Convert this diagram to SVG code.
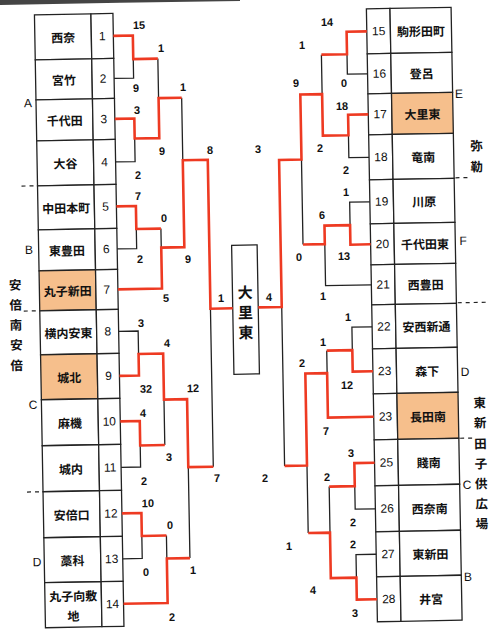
<svg xmlns="http://www.w3.org/2000/svg" width="500" height="644" viewBox="0 0 500 644">
<style>
.cell{fill:#fff;stroke:#222;stroke-width:1.3}
.hl{fill:#F6BF8C;stroke:#222;stroke-width:1.3}
.ln{fill:none;stroke:#222;stroke-width:1.3}
.rd{fill:none;stroke:#EE3A22;stroke-width:2.6;stroke-linejoin:miter}
.nm{font-family:"Noto Sans CJK JP","Noto Sans CJK SC",sans-serif;font-size:12px;font-weight:bold;text-anchor:middle;dominant-baseline:central;fill:#111}
.no{font-family:"Liberation Sans",Arial,sans-serif;font-size:12px;text-anchor:middle;dominant-baseline:central;fill:#111}
.sc{font-family:"Liberation Sans",Arial,sans-serif;font-size:11px;font-weight:bold;text-anchor:middle;dominant-baseline:central;fill:#111}
.gp{font-family:"Liberation Sans",Arial,sans-serif;font-size:12px;text-anchor:middle;dominant-baseline:central;fill:#111}
.vj{font-family:"Noto Sans CJK JP",sans-serif;font-size:12.5px;font-weight:bold;text-anchor:middle;dominant-baseline:central;fill:#111}
.ds{stroke:#222;stroke-width:1.2;stroke-dasharray:4 4;fill:none}
.bx{font-family:"Noto Sans CJK JP",sans-serif;font-size:15px;font-weight:bold;text-anchor:middle;dominant-baseline:central;fill:#111}
</style>
<rect x="0" y="0" width="500" height="644" fill="#fff"/>
<path d="M0,0 H240 V1 Q120,2.5 0,5 Z" fill="#444"/>
<g transform="rotate(-1.03 250 322)">
<!-- left table -->
<g id="t1"><rect class="cell" x="40" y="11" width="56.5" height="45"/><rect class="cell" x="96.5" y="11" width="22" height="45"/><text class="nm" x="68.25" y="33.5">西奈</text><text class="no" x="107.5" y="33.5">1</text></g>
<g id="t2"><rect class="cell" x="40" y="56" width="56.5" height="40"/><rect class="cell" x="96.5" y="56" width="22" height="40"/><text class="nm" x="68.25" y="76">宮竹</text><text class="no" x="107.5" y="76">2</text></g>
<g id="t3"><rect class="cell" x="40" y="96" width="56.5" height="41"/><rect class="cell" x="96.5" y="96" width="22" height="41"/><text class="nm" x="68.25" y="116.5">千代田</text><text class="no" x="107.5" y="116.5">3</text></g>
<g id="t4"><rect class="cell" x="40" y="137" width="56.5" height="45"/><rect class="cell" x="96.5" y="137" width="22" height="45"/><text class="nm" x="68.25" y="159.5">大谷</text><text class="no" x="107.5" y="159.5">4</text></g>
<g id="t5"><rect class="cell" x="40" y="182" width="56.5" height="44"/><rect class="cell" x="96.5" y="182" width="22" height="44"/><text class="nm" x="68.25" y="204">中田本町</text><text class="no" x="107.5" y="204">5</text></g>
<g id="t6"><rect class="cell" x="40" y="226" width="56.5" height="41"/><rect class="cell" x="96.5" y="226" width="22" height="41"/><text class="nm" x="68.25" y="246.5">東豊田</text><text class="no" x="107.5" y="246.5">6</text></g>
<g id="t7"><rect class="hl" x="40" y="267" width="56.5" height="40"/><rect class="cell" x="96.5" y="267" width="22" height="40"/><text class="nm" x="68.25" y="287">丸子新田</text><text class="no" x="107.5" y="287">7</text></g>
<g id="t8"><rect class="cell" x="40" y="307" width="56.5" height="44"/><rect class="cell" x="96.5" y="307" width="22" height="44"/><text class="nm" x="68.25" y="329">横内安東</text><text class="no" x="107.5" y="329">8</text></g>
<g id="t9"><rect class="hl" x="40" y="351" width="56.5" height="45"/><rect class="cell" x="96.5" y="351" width="22" height="45"/><text class="nm" x="68.25" y="373.5">城北</text><text class="no" x="107.5" y="373.5">9</text></g>
<g id="t10"><rect class="cell" x="40" y="396" width="56.5" height="46"/><rect class="cell" x="96.5" y="396" width="22" height="46"/><text class="nm" x="68.25" y="419">麻機</text><text class="no" x="107.5" y="419">10</text></g>
<g id="t11"><rect class="cell" x="40" y="442" width="56.5" height="46"/><rect class="cell" x="96.5" y="442" width="22" height="46"/><text class="nm" x="68.25" y="465">城内</text><text class="no" x="107.5" y="465">11</text></g>
<g id="t12"><rect class="cell" x="40" y="488" width="56.5" height="46"/><rect class="cell" x="96.5" y="488" width="22" height="46"/><text class="nm" x="68.25" y="511">安倍口</text><text class="no" x="107.5" y="511">12</text></g>
<g id="t13"><rect class="cell" x="40" y="534" width="56.5" height="45"/><rect class="cell" x="96.5" y="534" width="22" height="45"/><text class="nm" x="68.25" y="556.5">藁科</text><text class="no" x="107.5" y="556.5">13</text></g>
<g id="t14"><rect class="cell" x="40" y="579" width="56.5" height="45"/><rect class="cell" x="96.5" y="579" width="22" height="45"/><text class="nm" x="68.25" y="592">丸子向敷</text><text class="nm" x="68.25" y="612">地</text><text class="no" x="107.5" y="601.5">14</text></g>
<!-- right table -->
<g id="t15"><rect class="cell" x="372" y="11" width="23.6" height="45"/><rect class="cell" x="395.6" y="11" width="61.1" height="45"/><text class="no" x="383.8" y="33.5">15</text><text class="nm" x="426.2" y="33.5">駒形田町</text></g>
<g id="t16"><rect class="cell" x="372" y="56" width="23.6" height="40"/><rect class="cell" x="395.6" y="56" width="61.1" height="40"/><text class="no" x="383.8" y="76">16</text><text class="nm" x="426.2" y="76">登呂</text></g>
<g id="t17"><rect class="cell" x="372" y="96" width="23.6" height="41"/><rect class="hl" x="395.6" y="96" width="61.1" height="41"/><text class="no" x="383.8" y="116.5">17</text><text class="nm" x="426.2" y="116.5">大里東</text></g>
<g id="t18"><rect class="cell" x="372" y="137" width="23.6" height="45"/><rect class="cell" x="395.6" y="137" width="61.1" height="45"/><text class="no" x="383.8" y="159.5">18</text><text class="nm" x="426.2" y="159.5">竜南</text></g>
<g id="t19"><rect class="cell" x="372" y="182" width="23.6" height="44"/><rect class="cell" x="395.6" y="182" width="61.1" height="44"/><text class="no" x="383.8" y="204">19</text><text class="nm" x="426.2" y="204">川原</text></g>
<g id="t20"><rect class="cell" x="372" y="226" width="23.6" height="41"/><rect class="cell" x="395.6" y="226" width="61.1" height="41"/><text class="no" x="383.8" y="246.5">20</text><text class="nm" x="426.2" y="246.5">千代田東</text></g>
<g id="t21"><rect class="cell" x="372" y="267" width="23.6" height="40"/><rect class="cell" x="395.6" y="267" width="61.1" height="40"/><text class="no" x="383.8" y="287">21</text><text class="nm" x="426.2" y="287">西豊田</text></g>
<g id="t22"><rect class="cell" x="372" y="307" width="23.6" height="44"/><rect class="cell" x="395.6" y="307" width="61.1" height="44"/><text class="no" x="383.8" y="329">22</text><text class="nm" x="426.2" y="329">安西新通</text></g>
<g id="t23"><rect class="cell" x="372" y="351" width="23.6" height="45"/><rect class="cell" x="395.6" y="351" width="61.1" height="45"/><text class="no" x="383.8" y="373.5">23</text><text class="nm" x="426.2" y="373.5">森下</text></g>
<g id="t24"><rect class="cell" x="372" y="396" width="23.6" height="46"/><rect class="hl" x="395.6" y="396" width="61.1" height="46"/><text class="no" x="383.8" y="419">23</text><text class="nm" x="426.2" y="419">長田南</text></g>
<g id="t25"><rect class="cell" x="372" y="442" width="23.6" height="46"/><rect class="cell" x="395.6" y="442" width="61.1" height="46"/><text class="no" x="383.8" y="465">25</text><text class="nm" x="426.2" y="465">賤南</text></g>
<g id="t26"><rect class="cell" x="372" y="488" width="23.6" height="46"/><rect class="cell" x="395.6" y="488" width="61.1" height="46"/><text class="no" x="383.8" y="511">26</text><text class="nm" x="426.2" y="511">西奈南</text></g>
<g id="t27"><rect class="cell" x="372" y="534" width="23.6" height="45"/><rect class="cell" x="395.6" y="534" width="61.1" height="45"/><text class="no" x="383.8" y="556.5">27</text><text class="nm" x="426.2" y="556.5">東新田</text></g>
<g id="t28"><rect class="cell" x="372" y="579" width="23.6" height="45"/><rect class="cell" x="395.6" y="579" width="61.1" height="45"/><text class="no" x="383.8" y="601.5">28</text><text class="nm" x="426.2" y="601.5">井宮</text></g>
<!-- champion box -->
<g id="champ"><rect class="cell" x="233" y="245" width="25.5" height="129"/><text class="bx" x="245.7" y="291.5">大</text><text class="bx" x="245.7" y="311.5">里</text><text class="bx" x="245.7" y="331.5">東</text></g>
<!-- connectors -->
<g id="connectors">
<path class="ln" d="M118.5,76 H138 V57 M118.5,159.5 H138 V136.5 M162.6,57 V96.5 M118.5,246.5 H138 V227 M162.6,227 V246 M185.7,96.5 V159 M118.5,329 H138 V352 M118.5,465 H138 V443.5 M162.6,398 V443.5 M118.5,556.5 H138 V534 M162.6,534 V557 M185.7,466 V557 M210.7,308 V466"/>
<path class="ln" d="M372,76 H351.8 V56 M372,159.5 H351.8 V137 M326.2,56 V95.5 M372,204 H351.8 V227 M372,287 H326.2 V245.5 M304.4,160.5 V245.5 M372,329 H351.8 V352 M326.2,352 V374.5 M372,511 H351.8 V488 M372,556.5 H351.8 V579.5 M326.2,488 V534 M304.4,466.5 V534 M282,307.5 V466.5"/>
<path class="rd" d="M118.5,33.5 H138 V57 H162.6"/>
<path class="rd" d="M118.5,116.5 H138 V136.5 H162.6 V96.5 H185.7"/>
<path class="rd" d="M118.5,204 H138 V227 H162.6"/>
<path class="rd" d="M118.5,287 H162.6 V246 H185.7 V159 H210.7 V308 H233"/>
<path class="rd" d="M118.5,373.5 H138 V352 H162.6 V398 H185.7 V466 H210.7"/>
<path class="rd" d="M118.5,419 H138 V443.5 H162.6"/>
<path class="rd" d="M118.5,511 H138 V534 H162.6"/>
<path class="rd" d="M118.5,601.5 H162.6 V557 H185.7"/>
<path class="rd" d="M372,33.5 H351.8 V56 H326.2"/>
<path class="rd" d="M372,116.5 H351.8 V137 H326.2 V95.5 H304.4 V160.5 H282 V307.5 H258.5"/>
<path class="rd" d="M372,246.5 H351.8 V227 H326.2 V245.5 H304.4"/>
<path class="rd" d="M372,373.5 H351.8 V352 H326.2"/>
<path class="rd" d="M372,419 H326.2 V374.5 H304.4 V466.5 H282"/>
<path class="rd" d="M372,465 H351.8 V488 H326.2"/>
<path class="rd" d="M372,601.5 H351.8 V579.5 H326.2 V534 H304.4"/>
</g>
<!-- dashed group separators -->
<g id="separators">
<path class="ds" d="M24,182 H40 M24,307 H40 M24,488 H40"/>
<path class="ds" d="M458,181.5 H472 M458,306.5 H486 M458,442 H472"/>
</g>
<!-- scores -->
<g id="scores">
<text class="sc" x="144.4" y="23">15</text>
<text class="sc" x="166" y="46.4">1</text>
<text class="sc" x="140.2" y="86">9</text>
<text class="sc" x="187.2" y="85.8">1</text>
<text class="sc" x="140.8" y="108">3</text>
<text class="sc" x="165.1" y="149.4">9</text>
<text class="sc" x="213.1" y="149.3">8</text>
<text class="sc" x="140.6" y="173">2</text>
<text class="sc" x="140.3" y="194">7</text>
<text class="sc" x="165.9" y="216.5">0</text>
<text class="sc" x="141.1" y="257">2</text>
<text class="sc" x="189.1" y="257.9">9</text>
<text class="sc" x="166.4" y="296.5">5</text>
<text class="sc" x="221.4" y="297.5">1</text>
<text class="sc" x="141" y="321">3</text>
<text class="sc" x="166.6" y="341.5">4</text>
<text class="sc" x="144.8" y="386.8">32</text>
<text class="sc" x="191.8" y="387">12</text>
<text class="sc" x="141.4" y="411">4</text>
<text class="sc" x="166.6" y="455.5">3</text>
<text class="sc" x="141.1" y="479">2</text>
<text class="sc" x="214.2" y="477.4">7</text>
<text class="sc" x="144.7" y="501.2">10</text>
<text class="sc" x="166.3" y="523.6">0</text>
<text class="sc" x="188.5" y="569">1</text>
<text class="sc" x="141.5" y="570.1">0</text>
<text class="sc" x="166.7" y="615.6">2</text>
<text class="sc" x="332.4" y="23.4">14</text>
<text class="sc" x="307" y="46">1</text>
<text class="sc" x="300.3" y="83.8">9</text>
<text class="sc" x="348.3" y="84.7">0</text>
<text class="sc" x="345.9" y="107.7">18</text>
<text class="sc" x="261.1" y="149.1">3</text>
<text class="sc" x="323.1" y="149.3">2</text>
<text class="sc" x="348.7" y="171.7">2</text>
<text class="sc" x="348.3" y="193.7">1</text>
<text class="sc" x="323.9" y="216.3">6</text>
<text class="sc" x="300.2" y="257.9">0</text>
<text class="sc" x="345.2" y="257.7">13</text>
<text class="sc" x="323.5" y="297.3">1</text>
<text class="sc" x="269.5" y="297.3">4</text>
<text class="sc" x="348.1" y="318.8">1</text>
<text class="sc" x="322.6" y="343.3">1</text>
<text class="sc" x="301.3" y="363.9">2</text>
<text class="sc" x="345.9" y="386.7">12</text>
<text class="sc" x="324" y="432.4">7</text>
<text class="sc" x="348.6" y="454.8">3</text>
<text class="sc" x="262.2" y="478.3">2</text>
<text class="sc" x="324.2" y="478.4">2</text>
<text class="sc" x="349.4" y="523.9">2</text>
<text class="sc" x="349" y="545.9">2</text>
<text class="sc" x="285" y="546.7">1</text>
<text class="sc" x="308.2" y="591.1">4</text>
<text class="sc" x="349.8" y="614.9">3</text>
</g>
<!-- group labels -->
<g id="labels">
<text class="gp" x="32" y="99.2">A</text>
<text class="gp" x="30.3" y="246">B</text>
<text class="gp" x="31.5" y="401.1">C</text>
<text class="gp" x="32.7" y="558.2">D</text>
<text class="vj" x="16" y="280">安</text>
<text class="vj" x="16" y="300">倍</text>
<text class="vj" x="16" y="320">南</text>
<text class="vj" x="16" y="340">安</text>
<text class="vj" x="16" y="360.5">倍</text>
<text class="gp" x="463.1" y="97.8">E</text>
<text class="vj" x="479.5" y="149">弥</text>
<text class="vj" x="479.5" y="170">勒</text>
<text class="gp" x="464.5" y="244.8">F</text>
<text class="gp" x="464.1" y="375.9">D</text>
<text class="vj" x="478.3" y="406">東</text>
<text class="vj" x="478.3" y="426">新</text>
<text class="vj" x="478.3" y="447">田</text>
<text class="vj" x="478.3" y="467">子</text>
<text class="vj" x="478.3" y="487">供</text>
<text class="vj" x="478.3" y="507">広</text>
<text class="vj" x="478.3" y="527">場</text>
<text class="gp" x="464.1" y="488.9">C</text>
<text class="gp" x="463.4" y="580.9">B</text>
</g>
</g>
</svg>
